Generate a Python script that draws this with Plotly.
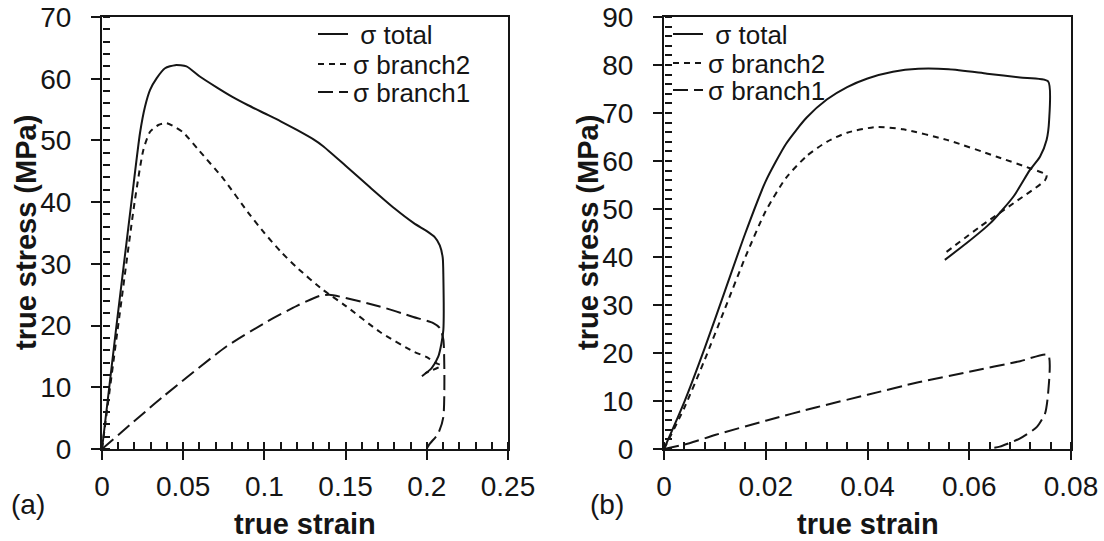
import plotly.graph_objects as go

# ---------------- data ----------------
# panel (a)
a_total_strain = [0, 0.0086, 0.0183, 0.0234, 0.0265, 0.0296, 0.0337, 0.0388, 0.045, 0.052,
                  0.06, 0.0706, 0.08, 0.09, 0.1, 0.11, 0.12, 0.13, 0.136, 0.15, 0.165,
                  0.18, 0.192, 0.2, 0.205, 0.208, 0.2098, 0.2102, 0.2102, 0.209, 0.2071,
                  0.203, 0.197]
a_total_stress = [0, 19.3, 40.4, 51.2, 55.5, 58.2, 60.1, 61.7, 62.2, 62.0,
                  60.4, 58.6, 57.1, 55.7, 54.4, 53.1, 51.7, 50.2, 49.1, 45.9, 42.4,
                  39.0, 36.6, 35.3, 34.3, 33.0, 31.0, 28.0, 19.3, 17.1, 15.0,
                  13.1, 11.8]

a_b2_strain = [0, 0.0096, 0.0203, 0.0255, 0.0296, 0.0347, 0.0398, 0.046, 0.05, 0.06,
               0.075, 0.09, 0.1, 0.11, 0.12, 0.136, 0.15, 0.171, 0.1917, 0.2, 0.205,
               0.2088, 0.199]
a_b2_stress = [0, 19.3, 40.4, 48.5, 51.4, 52.5, 52.8, 52.0, 51.3, 48.3,
               43.7, 38.3, 35.0, 32.0, 29.4, 25.8, 23.2, 19.0, 15.8, 14.9, 14.0,
               13.5, 12.3]

a_b1_strain = [0, 0.0377, 0.0766, 0.1014, 0.12, 0.134, 0.140, 0.171, 0.1917, 0.204,
               0.208, 0.2102, 0.2102, 0.207, 0.202, 0.200]
a_b1_stress = [0, 8.5, 16.6, 20.6, 23.2, 24.8, 25.0, 23.1, 21.4, 20.4,
               19.6, 17.7, 5.2, 2.5, 0.9, 0.1]

# panel (b)
b_total_strain = [0, 0.004, 0.008, 0.012, 0.016, 0.02, 0.024, 0.028, 0.032, 0.036,
                  0.04, 0.045, 0.05, 0.056, 0.0635, 0.07, 0.0755, 0.0757,
                  0.0752, 0.0739, 0.0719, 0.0687, 0.0641, 0.0595, 0.0552]
b_total_stress = [0, 9.8, 21.0, 33.0, 45.0, 55.8, 63.6, 69.0, 72.8, 75.4,
                  77.2, 78.6, 79.2, 79.1, 78.2, 77.4, 76.6, 68.5,
                  64.4, 60.9, 58.1, 52.6, 47.0, 42.9, 39.4]

b_b2_strain = [0, 0.004, 0.008, 0.012, 0.016, 0.02, 0.024, 0.028, 0.032, 0.036, 0.0418,
               0.047, 0.0556, 0.0654, 0.0719, 0.0752, 0.0749, 0.0687, 0.0621, 0.0552]
b_b2_stress = [0, 8.6, 18.6, 29.3, 40.0, 49.6, 56.5, 61.0, 64.0, 65.9, 67.1,
               66.6, 64.4, 60.9, 58.5, 57.1, 56.0, 51.2, 46.3, 40.8]

b_b1_strain = [0, 0.005, 0.01, 0.02, 0.03, 0.04, 0.05, 0.06, 0.07, 0.0755,
               0.0755, 0.0749, 0.0733, 0.070, 0.066, 0.0641]
b_b1_stress = [0, 1.2, 2.9, 5.9, 8.7, 11.3, 13.9, 16.1, 18.3, 19.6,
               11.6, 7.4, 4.6, 2.2, 0.5, 0.15]

legend_labels = ["\u00a0σ total", "σ branch2", "σ branch1"]
x_title = "true strain"
y_title = "true stress (MPa)"

# ---------------- styling ----------------
W, H = 1104, 541
FONT = "Liberation Sans, Arial, sans-serif"
INK = "#151515"

def px_x(p):
    return p / W

def px_y(p):
    return (H - p) / H

dom_a = [px_x(102), px_x(508)]
dom_b = [px_x(664), px_x(1071)]
dom_y = [px_y(449), px_y(17)]

dashes = ["solid", "6px,5px", "15px,6px"]

fig = go.Figure()

series_a = [(a_total_strain, a_total_stress), (a_b2_strain, a_b2_stress), (a_b1_strain, a_b1_stress)]
series_b = [(b_total_strain, b_total_stress), (b_b2_strain, b_b2_stress), (b_b1_strain, b_b1_stress)]

for i, (xs, ys) in enumerate(series_a):
    fig.add_trace(go.Scatter(x=xs, y=ys, mode="lines", name=legend_labels[i],
                             line=dict(color=INK, width=2, dash=dashes[i],
                                       shape="spline", smoothing=0.6),
                             xaxis="x", yaxis="y", showlegend=True,
                             legend="legend" if i == 0 else f"legend{i+1}"))
for i, (xs, ys) in enumerate(series_b):
    fig.add_trace(go.Scatter(x=xs, y=ys, mode="lines", name=legend_labels[i],
                             line=dict(color=INK, width=2, dash=dashes[i],
                                       shape="spline", smoothing=0.6),
                             xaxis="x2", yaxis="y2", showlegend=True,
                             legend=f"legend{i+4}"))

# invisible helper traces so the inner-tick overlay axes get drawn
for xa, ya in [("x3", "y3"), ("x4", "y4")]:
    fig.add_trace(go.Scatter(x=[0], y=[0], mode="markers", marker=dict(opacity=0, size=1),
                             xaxis=xa, yaxis=ya, showlegend=False, hoverinfo="skip"))

tickfont = dict(family=FONT, size=28, color=INK)

def main_axis(dom, rng, dtick, anchor, standoff):
    return dict(domain=dom, range=rng, dtick=dtick, tick0=0, anchor=anchor,
                automargin=False,
                showline=True, linecolor=INK, linewidth=2, mirror=True,
                ticks="outside", ticklen=9, tickwidth=2, tickcolor=INK,
                showgrid=False, zeroline=False, tickfont=tickfont,
                ticklabelstandoff=standoff, fixedrange=True)

def inner_ticks(over, rng, dtick, side, pos):
    # an overlay axis sitting on the main axis line, facing the plot, whose
    # "outside" ticks therefore point into the plot area (minor + inner major ticks)
    return dict(overlaying=over, range=rng, dtick=dtick, tick0=0, anchor="free",
                position=pos, side=side, automargin=False,
                showline=False, ticks="outside", ticklen=7, tickwidth=2, tickcolor=INK,
                showticklabels=False, showgrid=False, zeroline=False, fixedrange=True)

fig.update_layout(
    width=W, height=H, autosize=False, showlegend=True,
    margin=dict(l=0, r=0, t=0, b=0, autoexpand=False),
    paper_bgcolor="white", plot_bgcolor="white",
    font=dict(family=FONT, color=INK),
    xaxis=main_axis(dom_a, [0, 0.25], 0.05, "y", 2),
    yaxis=main_axis(dom_y, [0, 70], 10, "x", 14),
    xaxis2=main_axis(dom_b, [0, 0.08], 0.02, "y2", 2),
    yaxis2=main_axis(dom_y, [0, 90], 10, "x2", 14),
    xaxis3=inner_ticks("x", [0, 0.25], 0.01, "top", dom_y[0]),
    yaxis3=inner_ticks("y", [0, 70], 2, "right", dom_a[0]),
    xaxis4=inner_ticks("x2", [0, 0.08], 0.004, "top", dom_y[0]),
    yaxis4=inner_ticks("y2", [0, 90], 2, "right", dom_b[0]),
    hovermode=False,
)

# one legend per entry so each row sits exactly where it does in the reference
leg_font = dict(family=FONT, size=26, color=INK)
rows_a = [34, 64, 92]
rows_b = [34, 63, 90]
for i, r in enumerate(rows_a):
    key = "legend" if i == 0 else f"legend{i+1}"
    fig.update_layout({key: dict(x=px_x(313), y=px_y(r), xanchor="left", yanchor="middle",
                                 bgcolor="rgba(0,0,0,0)", borderwidth=0, font=leg_font,
                                 itemwidth=30, visible=True)})
for i, r in enumerate(rows_b):
    key = f"legend{i+4}"
    fig.update_layout({key: dict(x=px_x(668), y=px_y(r), xanchor="left", yanchor="middle",
                                 bgcolor="rgba(0,0,0,0)", borderwidth=0, font=leg_font,
                                 itemwidth=30, visible=True)})

title_font = dict(family=FONT, size=29, color=INK)
ann = []
for cx in [(102 + 508) / 2, (664 + 1071) / 2]:
    ann.append(dict(text=f"<b>{x_title}</b>", x=px_x(cx), y=px_y(524), xref="paper", yref="paper",
                    xanchor="center", yanchor="middle", showarrow=False, font=title_font))
for cx in [26, 588]:
    ann.append(dict(text=f"<b>{y_title}</b>", x=px_x(cx), y=px_y(233), xref="paper", yref="paper",
                    xanchor="center", yanchor="middle", showarrow=False, textangle=-90,
                    font=title_font))
for lab, cx in [("(a)", 28), ("(b)", 607)]:
    ann.append(dict(text=lab, x=px_x(cx), y=px_y(504), xref="paper", yref="paper",
                    xanchor="center", yanchor="middle", showarrow=False,
                    font=dict(family=FONT, size=28, color=INK)))
fig.update_layout(annotations=ann)

fig.write_html("out.html")
